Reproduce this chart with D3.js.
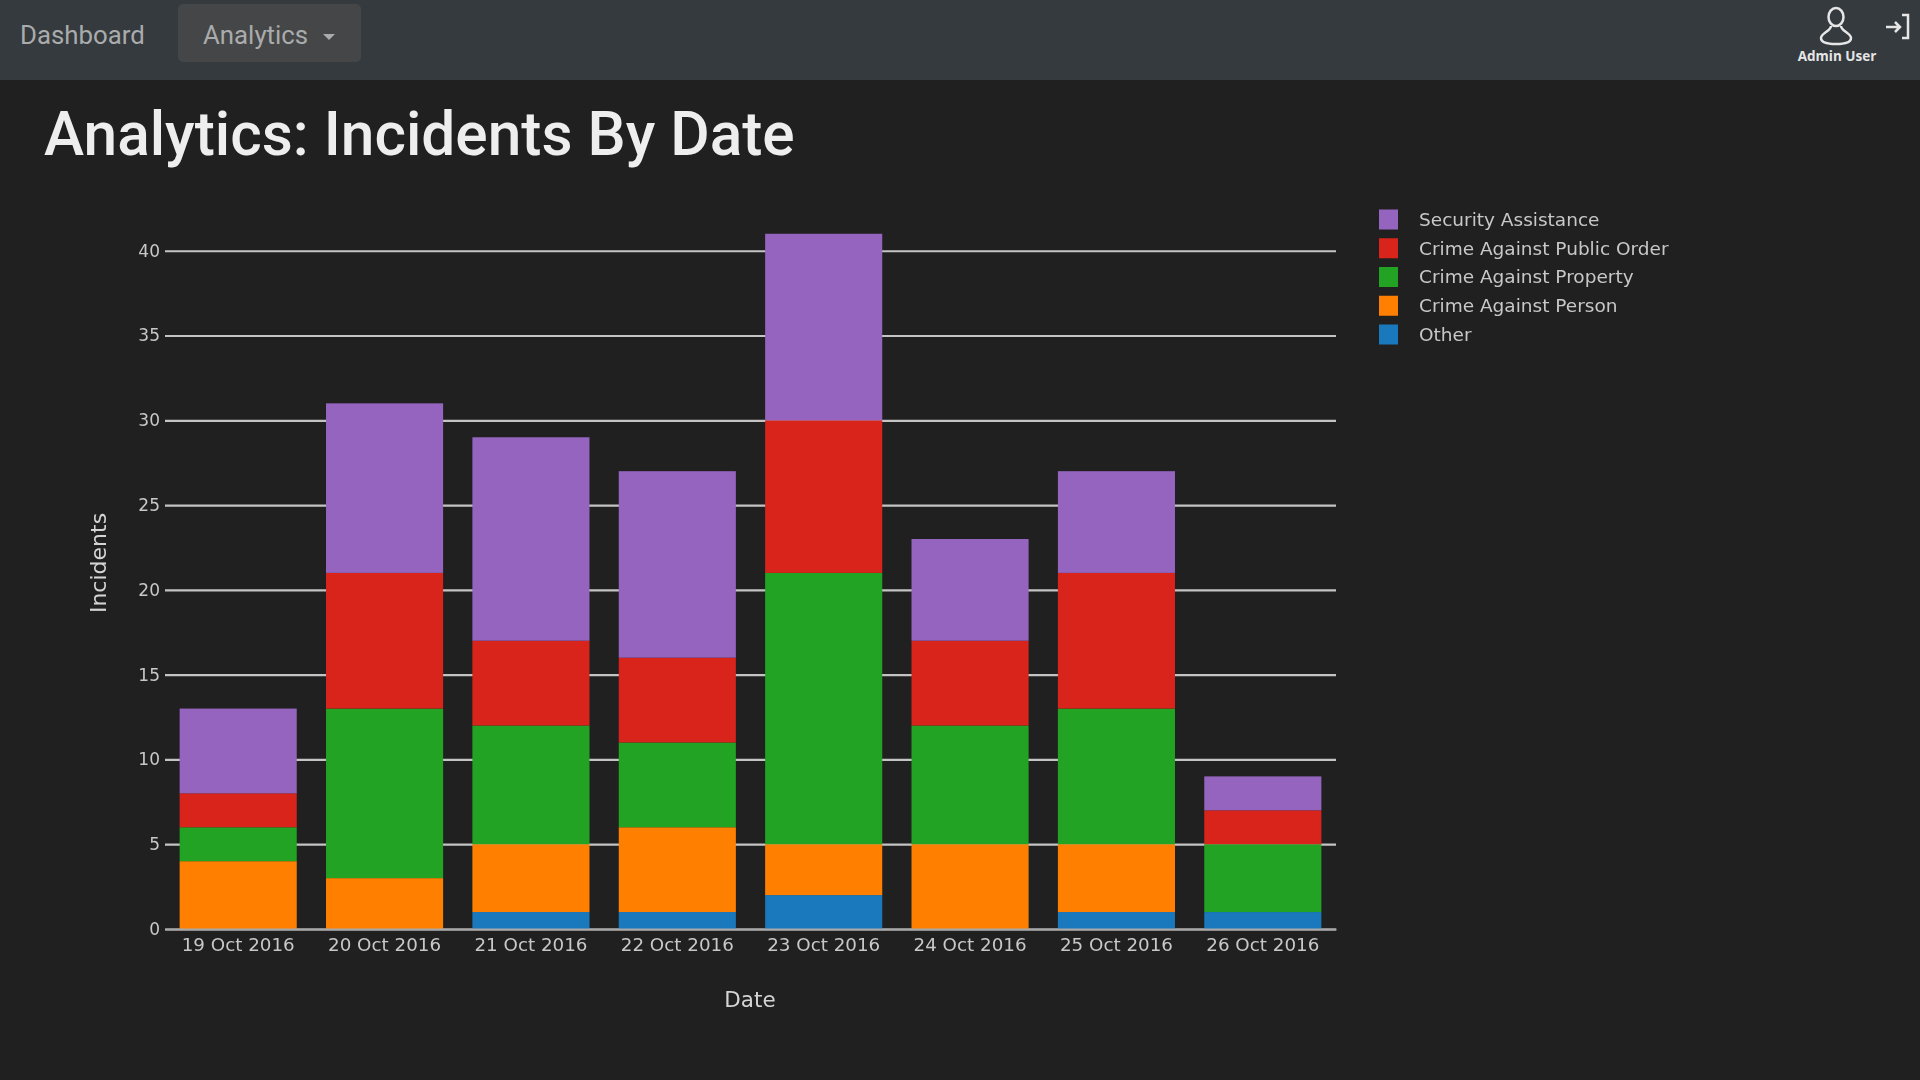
<!DOCTYPE html>
<html>
<head>
<meta charset="utf-8">
<title>Analytics: Incidents By Date</title>
<script src="https://cdn.jsdelivr.net/npm/d3@7/dist/d3.min.js"></script>
<style>
html, body { margin: 0; padding: 0; width: 1920px; height: 1080px; overflow: hidden; background: #202020; }
#page { position: absolute; left: 0; top: 0; width: 1920px; height: 1080px; filter: blur(0.6px); }
.navbar { position: absolute; left: 0; top: 0; width: 1920px; height: 80px; background: #353a3e; }
.nav-link { position: absolute; top: 15px; height: 40px; font: 25.8px/40px Roboto, sans-serif; color: #a9abac; }
.nav-active { position: absolute; left: 178px; top: 4px; width: 183px; height: 58px; background: #454647; border-radius: 5px; }
.caret { position: absolute; left: 323px; top: 34px; width: 0; height: 0; border-left: 6px solid transparent; border-right: 6px solid transparent; border-top: 6px solid #a9abac; }
.user-name { position: absolute; left: 1787px; top: 47px; width: 100px; text-align: center; font: bold 13.5px "Open Sans", sans-serif; color: #e6e6e6; }
h1 { position: absolute; left: 44px; top: 97px; margin: 0; font: 500 60.4px/76px Roboto, sans-serif; color: #eeeeee; }
svg { position: absolute; left: 0; top: 0; }
#chart text { font-family: "DejaVu Sans", sans-serif; }
</style>
</head>
<body>
<div id="page">
<div class="navbar">
    <div class="nav-active"></div>
    <div class="nav-link" style="left:20px">Dashboard</div>
    <div class="nav-link" style="left:203px">Analytics</div>
    <div class="caret"></div>
    <div class="user-name">Admin User</div>
    <svg width="1920" height="80">
        <g fill="none" stroke="#e6e6e6" stroke-width="2.5">
            <ellipse cx="1836" cy="17" rx="7.5" ry="9"></ellipse>
            <path d="M1831 26 C1831 31 1821 33 1821 38 C1821 43 1828 44 1836 44 C1844 44 1851 43 1851 38 C1851 33 1841 31 1841 26"></path>
            <path d="M1886 27 H1899 M1895 22 L1900 27 L1895 32 M1902 15 H1908 V38 H1902"></path>
        </g>
    </svg>
</div>
<h1>Analytics: Incidents By Date</h1>
<svg id="chart" width="1920" height="1080"></svg>
</div>
<script>
const dates = ['19 Oct 2016', '20 Oct 2016', '21 Oct 2016', '22 Oct 2016', '23 Oct 2016', '24 Oct 2016', '25 Oct 2016', '26 Oct 2016'];
const other = [0, 0, 1, 1, 2, 0, 1, 1];
const crimePerson = [4, 3, 4, 5, 3, 5, 4, 0];
const crimeProperty = [2, 10, 7, 5, 16, 7, 8, 4];
const crimePublicOrder = [2, 8, 5, 5, 9, 5, 8, 2];
const securityAssistance = [5, 10, 12, 11, 11, 6, 6, 2];
const yTicks = [0, 5, 10, 15, 20, 25, 30, 35, 40];

const seriesNames = ['Other', 'Crime Against Person', 'Crime Against Property', 'Crime Against Public Order', 'Security Assistance'];
const seriesValues = [other, crimePerson, crimeProperty, crimePublicOrder, securityAssistance];
const seriesColors = ['#1a78bd', '#ff8000', '#22a323', '#d9241c', '#9564bf'];

const plot = { left: 165, right: 1336, top: 227, bottom: 929 };

const x = d3.scaleBand()
    .domain(dates)
    .range([plot.left, plot.right])
    .paddingInner(0.2)
    .paddingOuter(0.1);

const y = d3.scaleLinear()
    .domain([0, 41.4])
    .range([plot.bottom, plot.top]);

const rows = dates.map((d, i) => {
    const row = { date: d };
    seriesNames.forEach((n, s) => { row[n] = seriesValues[s][i]; });
    return row;
});
const stacked = d3.stack().keys(seriesNames)(rows);

const svg = d3.select('#chart');

// gridlines and y axis sit behind the bars
const yAxis = svg.append('g')
    .attr('transform', `translate(${plot.left},0)`)
    .call(d3.axisLeft(y).tickValues(yTicks).tickSize(-(plot.right - plot.left)).tickPadding(5));
yAxis.select('.domain').remove();
yAxis.selectAll('line').attr('stroke', '#c4c4c4').attr('stroke-width', 2.2);
yAxis.selectAll('text').attr('fill', '#c8c8c8').style('font-size', '17px');

svg.append('g').selectAll('g')
    .data(stacked)
    .join('g')
    .attr('fill', (d, i) => seriesColors[i])
    .selectAll('rect')
    .data(d => d)
    .join('rect')
    .attr('x', d => x(d.data.date))
    .attr('y', d => y(d[1]))
    .attr('width', x.bandwidth())
    .attr('height', d => y(d[0]) - y(d[1]));

const xAxis = svg.append('g')
    .attr('transform', `translate(0,${plot.bottom})`)
    .call(d3.axisBottom(x).tickSize(0).tickPadding(9));
xAxis.select('.domain').attr('stroke', '#a8a8a8').attr('stroke-width', 2);
xAxis.selectAll('text').attr('fill', '#c8c8c8').style('font-size', '18.3px');

svg.append('text')
    .attr('x', 750)
    .attr('y', 1007)
    .attr('text-anchor', 'middle')
    .attr('fill', '#d4d4d4')
    .style('font-size', '21.5px')
    .text('Date');

svg.append('text')
    .attr('transform', 'translate(106,563) rotate(-90)')
    .attr('text-anchor', 'middle')
    .attr('fill', '#d4d4d4')
    .style('font-size', '22px')
    .text('Incidents');

// legend reads top to bottom in reverse stack order
const legendY = d3.scalePoint()
    .domain(seriesNames.slice().reverse())
    .range([219.5, 334.5]);

const legend = svg.append('g').selectAll('g')
    .data(seriesNames.slice().reverse())
    .join('g')
    .attr('transform', d => `translate(1379,${legendY(d)})`);

legend.append('rect')
    .attr('y', -10)
    .attr('width', 19)
    .attr('height', 20)
    .attr('fill', d => seriesColors[seriesNames.indexOf(d)]);

legend.append('text')
    .attr('x', 40)
    .attr('dy', '0.35em')
    .attr('fill', '#c8c8c8')
    .style('font-size', '18.5px')
    .text(d => d);
</script>
</body>
</html>
